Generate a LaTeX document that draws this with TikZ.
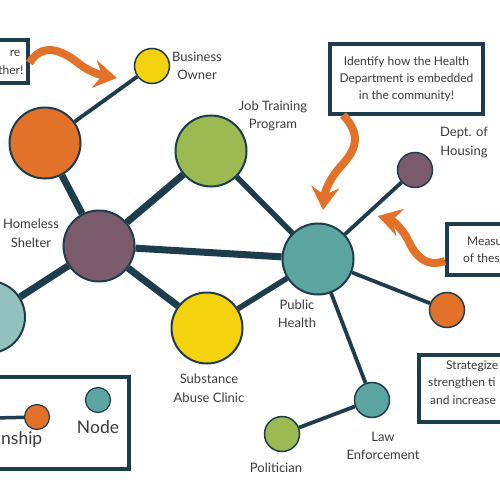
\documentclass[tikz,border=0pt]{standalone}
\usepackage{fontspec}
\setmainfont{Lato}
\usetikzlibrary{arrows.meta,backgrounds}
\definecolor{navy}{HTML}{1E3D4C}
\definecolor{corange}{HTML}{E2712A}
\definecolor{cyellow}{HTML}{F4D20E}
\definecolor{cgreen}{HTML}{9CBA52}
\definecolor{cpurple}{HTML}{7B5B6B}
\definecolor{cteal}{HTML}{5DA5A0}
\definecolor{clteal}{HTML}{93C2BE}
\definecolor{txt}{HTML}{3A3A3A}
\begin{document}
\begin{tikzpicture}[x=1pt,y=-1pt,
  bignode/.style={circle,inner sep=0pt,minimum size=71,draw=navy,line width=2},
  smallnode/.style={circle,inner sep=0pt,minimum size=35,draw=navy,line width=1.5},
  legnode/.style={circle,inner sep=0pt,minimum size=25,draw=navy,line width=1.2},
  lab/.style={text=txt,align=center,inner sep=0pt,font=\fontsize{13}{18.5}\selectfont},
  boxtxt/.style={text=txt,inner sep=0pt,font=\fontsize{12}{17.3}\selectfont},
  legtxt/.style={text=txt,inner sep=0pt,font=\fontsize{17.5}{20}\selectfont},
  box/.style={draw=navy,line width=4,fill=white,inner sep=0pt},
  edgeA/.style={draw=navy,line width=7},
  edgeB/.style={draw=navy,line width=5.5},
  edgeC/.style={draw=navy,line width=3.8},
  bigarrow/.style={draw=corange,line width=8,-{Stealth[length=23pt,width=28pt,inset=8pt]}}
]
\useasboundingbox (0,0) rectangle (500,500);
\clip (0,0) rectangle (500,500);

% nodes
\node[smallnode,fill=cyellow] (bo) at (152,66) {};
\node[bignode,fill=corange] (ob) at (45,143) {};
\node[bignode,fill=cgreen] (jt) at (211,151) {};
\node[bignode,fill=cpurple] (hs) at (99,246) {};
\node[bignode,fill=clteal,minimum size=72] (tl) at (-11,317) {};
\node[bignode,fill=cyellow] (sa) at (207,328) {};
\node[bignode,fill=cteal] (ph) at (318,259) {};
\node[smallnode,fill=cpurple] (dh) at (415,170) {};
\node[smallnode,fill=corange] (or) at (447,310) {};
\node[smallnode,fill=cteal] (le) at (372,400) {};
\node[smallnode,fill=cgreen] (po) at (282,434) {};

% edges
\begin{scope}[on background layer]
\draw[edgeC] (ob) -- (bo);
\draw[edgeA] (hs) -- (ob);
\draw[edgeA] (hs) -- (jt);
\draw[edgeA] (hs) -- (ph);
\draw[edgeA] (hs) -- (tl);
\draw[edgeA] (hs) -- (sa);
\draw[edgeB] (jt) -- (ph);
\draw[edgeB] (sa) -- (ph);
\draw[edgeC] (ph) -- (dh);
\draw[edgeC] (ph) -- (or);
\draw[edgeC] (ph) -- (le);
\draw[edgeC] (le) -- (po);
\end{scope}

% labels
\node[lab] (lbo) at (197,66) {Business\\Owner};
\node[lab] (ljt) at (273,116) {Job Training\\Program};
\node[lab] (ldh) at (464,142.5) {Dept. of\\Housing};
\node[lab] (lhs) at (31,233.5) {Homeless\\Shelter};
\node[lab] (lph) at (297,314) {Public\\Health};
\node[lab] (lsa) at (209,388.5) {Substance\\Abuse Clinic};
\node[lab] (lle) at (383,446) {Law\\Enforcement};
\node[lab] (lpo) at (276,468) {Politician};

% boxes
\node[box,minimum width=70,minimum height=43,anchor=east] (b1) at (29.5,61.5) {};
\node[boxtxt,anchor=east] (b1a) at (20.5,53) {re};
\node[boxtxt,anchor=east] (b1b) at (23.5,70) {ther!};

\node[box,minimum width=153,minimum height=70,align=center,text=txt,
      font=\fontsize{12}{17.3}\selectfont] (b2) at (406.5,79)
  {Identify how the Health\\Department is embedded\\in the community!};

\node[box,minimum width=100,minimum height=51,anchor=west] (b3) at (445,249.5) {};
\node[boxtxt,anchor=west] (b3a) at (467,241) {Measu};
\node[boxtxt,anchor=west] (b3b) at (463,258) {of thes};

\node[box,minimum width=110,minimum height=67,anchor=west] (b4) at (417,388.5) {};
\node[boxtxt,anchor=west] (b4a) at (446,366) {Strategize};
\node[boxtxt,anchor=west] (b4b) at (428,383) {strengthen ti};
\node[boxtxt,anchor=west] (b4c) at (430,400) {and increase};

% legend
\node[box,minimum width=170,minimum height=92,anchor=east] (leg) at (131,423) {};
\coordinate (legstart) at (-5,418);
\node[legnode,fill=corange] (lgo) at (37,417) {};
\node[legnode,fill=cteal] (lgt) at (98,400) {};
\draw[navy,line width=3.5] (legstart) -- (lgo);
\node[legtxt,anchor=east] (lgrel) at (42.5,440) {nship};
\node[legtxt] (lgnode) at (98,427) {Node};

% orange arrows
\draw[bigarrow] (b1.east |- 0,63) .. controls (42,42) and (62,50) .. (78,63)
   .. controls (88,71) and (100,75) .. (117,78);
\draw[bigarrow] (343,115) .. controls (362,135) and (356,150) .. (341,166)
   .. controls (331,177) and (325,190) .. (323,210);
\draw[bigarrow] (b3.west |- 0,261) .. controls (425,268) and (415,255) .. (408,240)
   .. controls (402,228) and (392,220) .. (378,216);
\end{tikzpicture}
\end{document}
